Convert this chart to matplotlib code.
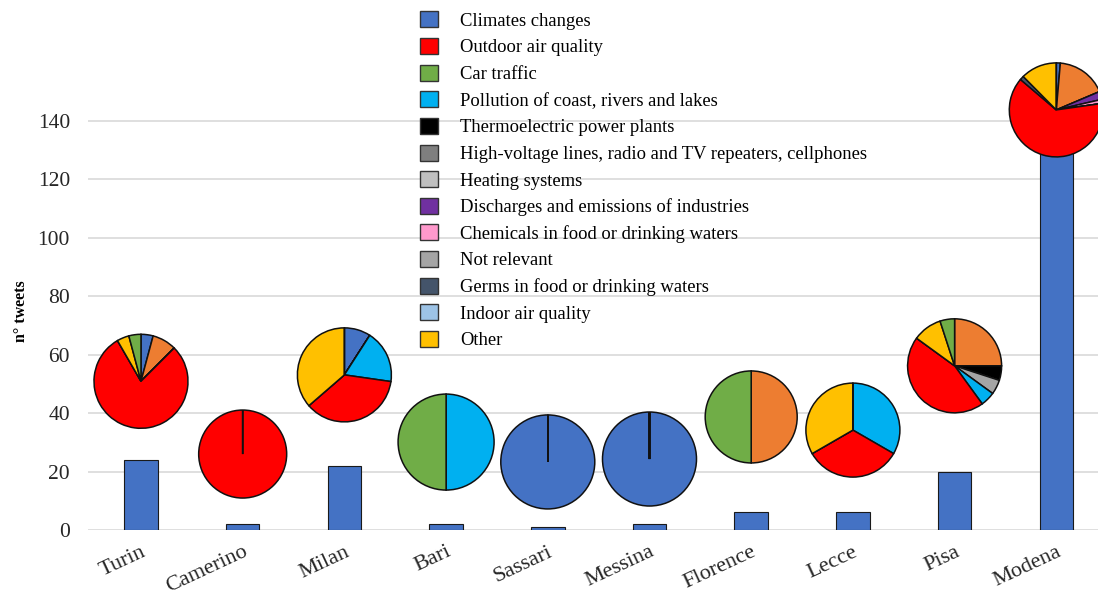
import matplotlib
matplotlib.use('Agg')
import matplotlib.pyplot as plt
from matplotlib.patches import Patch

plt.rcParams['font.family'] = ['Liberation Serif', 'DejaVu Serif']

cities = ['Turin', 'Camerino', 'Milan', 'Bari', 'Sassari', 'Messina',
          'Florence', 'Lecce', 'Pisa', 'Modena']
tweets = [24, 2, 22, 2, 1, 2, 6, 6, 20, 145]

# legend topics and their colours
topics = ['Climates changes', 'Outdoor air quality', 'Car traffic',
          'Pollution of coast, rivers and lakes', 'Thermoelectric power plants',
          'High-voltage lines, radio and TV repeaters, cellphones', 'Heating systems',
          'Discharges and emissions of industries', 'Chemicals in food or drinking waters',
          'Not relevant', 'Germs in food or drinking waters', 'Indoor air quality', 'Other']
topic_colors = ['#4472C4', '#FF0000', '#70AD47', '#00B0F0', '#000000', '#7F7F7F',
                '#BFBFBF', '#7030A0', '#FF99CC', '#A5A5A5', '#44546A', '#9DC3E6', '#FFC000']

# slices as drawn clockwise from 12 o'clock (orange has no legend entry)
slice_names = ['Climates changes', 'orange', 'Thermoelectric power plants',
               'Discharges and emissions of industries', 'Chemicals in food or drinking waters',
               'Not relevant', 'Pollution of coast, rivers and lakes', 'Outdoor air quality',
               'Germs in food or drinking waters', 'Other', 'Car traffic']
color_of = dict(zip(topics, topic_colors))
color_of['orange'] = '#ED7D31'

turin    = [1, 2, 0, 0, 0, 0, 0, 19, 0, 1, 1]
camerino = [0, 0, 0, 0, 0, 0, 0, 2, 0, 0, 0]
milan    = [2, 0, 0, 0, 0, 0, 4, 8, 0, 8, 0]
bari     = [0, 0, 0, 0, 0, 0, 1, 0, 0, 0, 1]
sassari  = [1, 0, 0, 0, 0, 0, 0, 0, 0, 0, 0]
messina  = [2, 0, 0, 0, 0, 0, 0, 0, 0, 0, 0]
florence = [0, 3, 0, 0, 0, 0, 0, 0, 0, 0, 3]
lecce    = [0, 0, 0, 0, 0, 0, 2, 2, 0, 2, 0]
pisa     = [0, 5, 1, 0, 0, 1, 1, 9, 0, 2, 1]
modena   = [2, 25, 0, 4, 2, 0, 0, 92, 2, 18, 0]
city_slices = [turin, camerino, milan, bari, sassari, messina, florence, lecce, pisa, modena]

# pie placement: centre height in data units, radius in pixels
pie_y = [50.9, 26.0, 53.1, 30.1, 23.3, 24.3, 38.7, 34.2, 56.2, 143.8]
pie_r = [47, 44, 47, 48, 47, 47, 46, 47, 47, 47]

W, H = 1098, 599
fig = plt.figure(figsize=(W / 100, H / 100), dpi=100)
ax = fig.add_axes([88 / W, 69 / H, 1 - 88 / W, 438.2 / H])

x = list(range(len(cities)))
ax.bar(x, tweets, width=0.33, color='#4472C4', edgecolor='#1a1a1a', linewidth=0.8, zorder=2)
ax.set_xlim(-0.521, 9.41)
ax.set_ylim(0, 150)
ax.set_yticks(range(0, 141, 20))
ax.grid(axis='y', color='#D9D9D9', linewidth=1.2, zorder=0)
ax.set_axisbelow(True)
for s in ax.spines.values():
    s.set_visible(False)
ax.tick_params(axis='y', length=0, pad=13, labelsize=15.5, labelcolor='#262626')
ax.tick_params(axis='x', length=0, pad=9)
ax.set_xticks(x, cities, rotation=25, ha='right', rotation_mode='anchor',
              fontsize=16, color='#262626')
ax.set_ylabel('n° tweets', fontweight='bold', fontsize=11.5)
ax.yaxis.set_label_coords(-0.058, 0.5)

# small pies above each bar
to_fig = fig.transFigure.inverted()
for i, vals in enumerate(city_slices):
    cx, cy = ax.transData.transform((i, pie_y[i]))
    r = pie_r[i] * 1.04
    (fx0, fy0) = to_fig.transform((cx - r, cy - r))
    (fx1, fy1) = to_fig.transform((cx + r, cy + r))
    pax = fig.add_axes([fx0, fy0, fx1 - fx0, fy1 - fy0])
    pax.pie(vals, colors=[color_of[n] for n in slice_names], startangle=90,
            counterclock=False, radius=1,
            wedgeprops=dict(edgecolor='#111111', linewidth=1.1))
    pax.set_xlim(-1.04, 1.04)
    pax.set_ylim(-1.04, 1.04)
    pax.axis('off')

handles = [Patch(facecolor=c, edgecolor='#333333', linewidth=1) for c in topic_colors]
fig.legend(handles, topics, loc='upper left', bbox_to_anchor=(413 / W, 1 - 4 / H),
           frameon=False, fontsize=13.4, handlelength=0.95, handleheight=0.95,
           handletextpad=1.2, labelspacing=0.44, borderaxespad=0)

fig.savefig('out.png', dpi=100)
